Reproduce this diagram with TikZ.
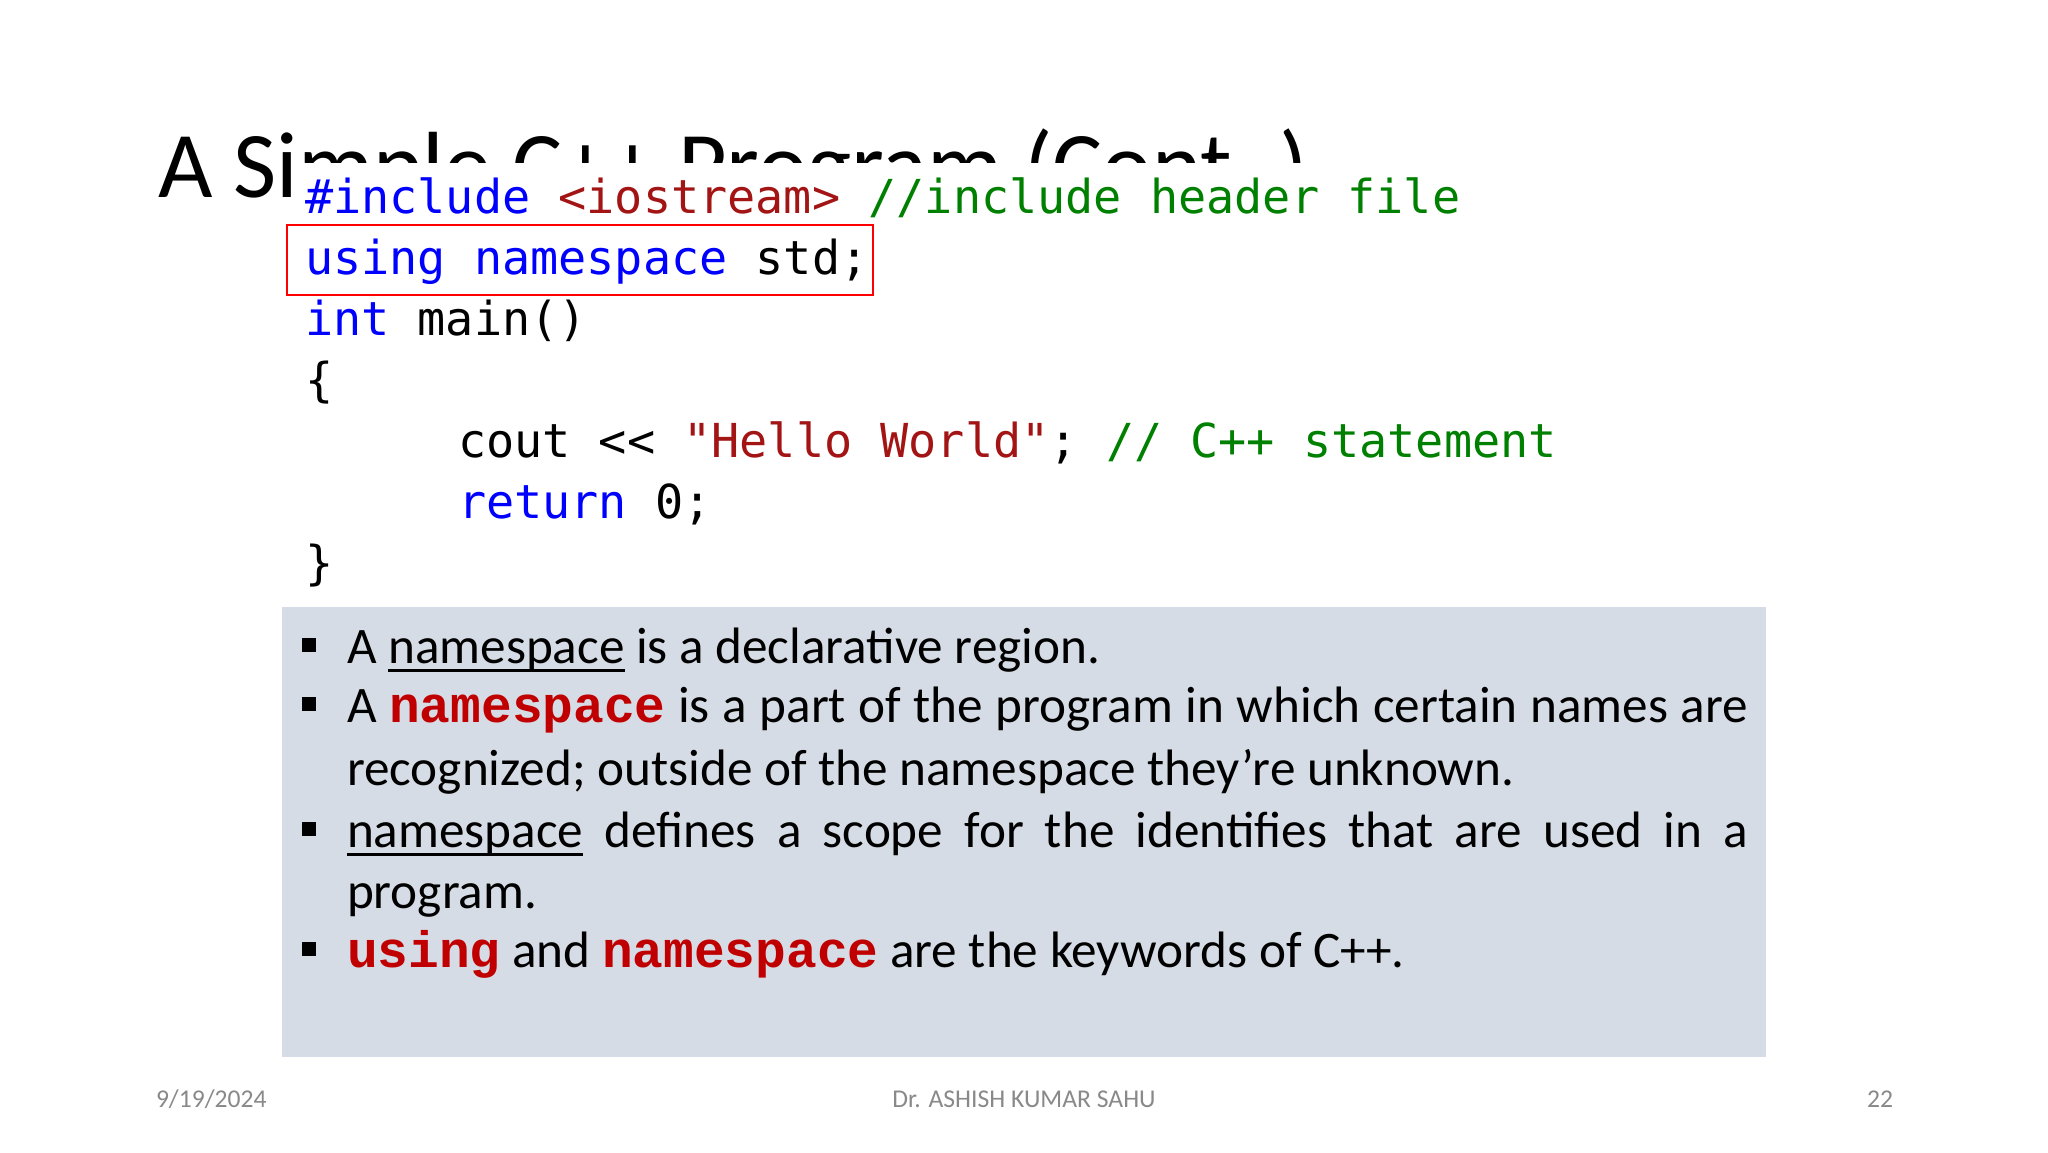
\documentclass[tikz,border=0pt]{standalone}
\usepackage{fontspec}
\setmainfont{Carlito}
\newfontfamily\codefont{DejaVu Sans Mono}
\newfontfamily\kwfont{Liberation Mono}
\definecolor{cblue}{HTML}{0000FF}
\definecolor{cstr}{HTML}{A31515}
\definecolor{cgreen}{HTML}{008000}
\definecolor{kwred}{HTML}{C00000}
\definecolor{boxgray}{HTML}{D6DCE5}
\definecolor{hlred}{HTML}{FF0000}
\definecolor{footgray}{HTML}{898989}
\newcommand\titlesize{\fontsize{94bp}{112bp}\selectfont}
\newcommand\codesize{\fontsize{46.8bp}{56bp}\selectfont}
\newcommand\bodysize{\fontsize{51.2bp}{61bp}\selectfont}
\newcommand\footsize{\fontsize{25.6bp}{30bp}\selectfont}
\newcommand\kw[1]{{\kwfont\bfseries\color{kwred}#1}}
\newsavebox\ulbox
\newcommand\ulword[1]{\sbox\ulbox{#1}\rlap{\rule[-9bp]{\wd\ulbox}{3bp}}\usebox\ulbox}
\begin{document}
\begin{tikzpicture}[x=1bp,y=-1bp,
  txt/.style={inner sep=0pt, outer sep=0pt, anchor=base west},
  code/.style={txt, font=\codefont\codesize},
  body/.style={txt, font=\bodysize},
  foot/.style={inner sep=0pt, outer sep=0pt, font=\footsize, text=footgray},
  bsq/.style={fill=black, inner sep=0pt, minimum size=14bp},
  panel/.style={inner sep=0pt, outer sep=0pt, anchor=north west}]
\useasboundingbox[fill=white] (0,0) rectangle (2048,1152);
% title (partly hidden by the code box)
\node[txt, font=\titlesize] (title) at (158,197) {A Simple C++ Program (Cont..)};
\node[panel, fill=white, minimum width=1320bp, minimum height=440bp] (codebox) at (300,163) {};
% code
\node[code] (l1) at (305,213) {\color{cblue}\#include \color{cstr}<iostream> \color{cgreen}//include header file};
\node[code] (l2) at (305,274) {\color{cblue}using namespace \color{black}std;};
\node[code] (l3) at (305,335) {\color{cblue}int \color{black}main()};
\node[code] (l4) at (305,396) {\{};
\node[code] (l5) at (458,457) {cout <\kern0pt< \color{cstr}"Hello World"\color{black}; \color{cgreen}// C++ statement};
\node[code] (l6) at (458,518) {\color{cblue}return \color{black}0;};
\node[code] (l7) at (305,579) {\}};
\node[panel, draw=hlred, line width=2bp, minimum width=586bp, minimum height=70bp] (hl) at (287,225) {};
% explanation panel
\node[panel, fill=boxgray, minimum width=1484bp, minimum height=450bp] (panel) at (282,607) {};
\node[bsq] (s1) at (309,645) {};
\node[body] (t1) at (347,663) {A \ulword{namespace} is a declarative region.};
\node[bsq] (s2) at (309,704) {};
\node[body] (t2) at (347,722) {\makebox[1401bp][s]{A \kw{namespace} is a part of the program in which certain names are}};
\node[body] (t3) at (347,785) {recognized; outside of the namespace they’re unknown.};
\node[bsq] (s3) at (309,829) {};
\node[body] (t4) at (347,847) {\makebox[1401bp][s]{\ulword{namespace} defines a scope for the identifies that are used in a}};
\node[body] (t5) at (347,908) {program.};
\node[bsq] (s4) at (309,949) {};
\node[body] (t6) at (347,967) {\kw{using} and \kw{namespace} are the keywords of C++.};
% footer
\node[foot, anchor=base west] (date) at (156,1107) {9/19/2024};
\node[foot, anchor=base] (author) at (1024,1107) {Dr. ASHISH KUMAR SAHU};
\node[foot, anchor=base east] (page) at (1893,1107) {22};
\end{tikzpicture}
\end{document}
